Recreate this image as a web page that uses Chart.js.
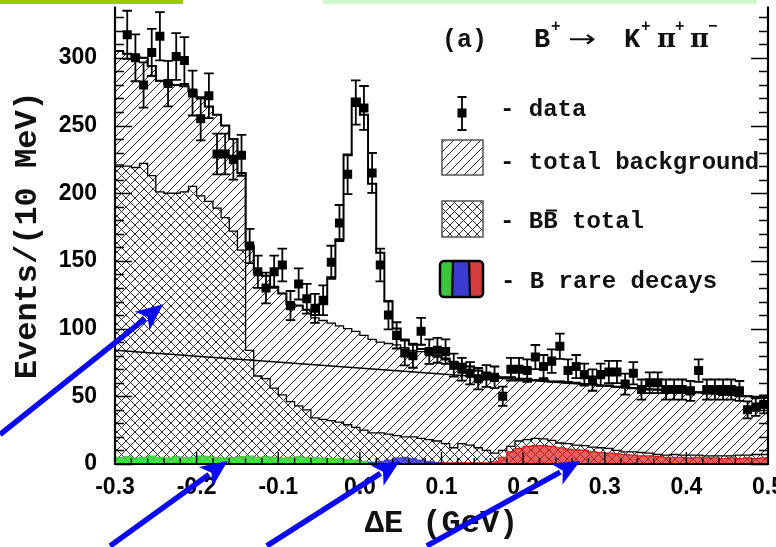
<!DOCTYPE html>
<html>
<head>
<meta charset="utf-8">
<script src="https://cdn.jsdelivr.net/npm/chart.js@4.4.1/dist/chart.umd.min.js"></script>
<style>
  html, body { margin: 0; padding: 0; background: #fff; }
  #wrap { width: 776px; height: 547px; position: relative; }
</style>
</head>
<body>
<div id="wrap"><canvas id="c" width="776" height="547"></canvas></div>
<script>
// Delta E histogram, 80 bins of 10 MeV from -0.3 to 0.5 GeV
const binLow = -0.3;
const binWidth = 0.01;
const xMin = -0.3, xMax = 0.5;
const yMin = 0, yMax = 338;

// Events per bin
const dataCounts = [
  365, 317, 300, 280, 304, 316, 281, 301, 298, 274,
  255, 272, 229, 229, 225, 228, 161, 142, 130, 142,
  147, 117, 133, 122, 115, 121, 149, 178, 214, 267,
  263, 215, 147, 110, 95, 82, 80, 98, 83, 84,
  83, 73, 70, 67, 63, 65, 64, 50, 70, 70,
  69, 79, 72, 76, 87, 69, 72, 66, 62, 66,
  68, 68, 59, 67, 55, 60, 60, 55, 55, 55,
  54, 69, 55, 55, 55, 55, 54, 40, 42, 44
];
const dataErrors = [
  19.1, 17.8, 17.3, 16.7, 17.4, 17.8, 16.8, 17.3, 17.3, 16.6,
  16.0, 16.5, 15.1, 15.1, 15.0, 15.1, 12.7, 11.9, 11.4, 11.9,
  12.1, 10.8, 11.5, 11.0, 10.7, 11.0, 12.2, 13.3, 14.6, 16.3,
  16.2, 14.7, 12.1, 10.5, 9.7, 9.1, 8.9, 9.9, 9.1, 9.2,
  9.1, 8.5, 8.4, 8.2, 7.9, 8.1, 8.0, 7.1, 8.4, 8.4,
  8.3, 8.9, 8.5, 8.7, 9.3, 8.3, 8.5, 8.1, 7.9, 8.1,
  8.2, 8.2, 7.7, 8.2, 7.4, 7.7, 7.7, 7.4, 7.4, 7.4,
  7.3, 8.3, 7.4, 7.4, 7.4, 7.4, 7.3, 6.3, 6.5, 6.6
];
// Fitted total (background + signal)
const fitTotal = [
  305, 303, 301, 300, 294, 283, 281, 280, 279, 276,
  270, 264, 258, 250, 240, 215, 161, 141, 139, 131,
  126, 118, 117, 114, 110, 118, 138, 166, 228, 270,
  258, 207, 156, 120, 100, 92, 88, 85, 83, 80,
  78, 75, 74, 72, 69, 67, 65, 64, 64, 63,
  63, 62, 62, 61, 61, 60, 60, 59, 59, 58,
  58, 57, 57, 56, 56, 55, 55, 54, 54, 53,
  53, 53, 52, 52, 51, 51, 50, 50, 49, 49
];
// Total background
const totalBkg = [
  305, 303, 301, 300, 294, 283, 281, 280, 279, 276,
  270, 264, 258, 250, 240, 215, 161, 141, 139, 131,
  126, 118, 117, 114, 108, 106, 104, 102, 100, 98,
  95, 92, 90, 89, 88, 86, 84, 83, 81, 79,
  77, 75, 74, 72, 69, 67, 65, 64, 64, 63,
  63, 62, 62, 61, 61, 60, 60, 59, 59, 58,
  58, 57, 57, 56, 56, 55, 55, 54, 54, 53,
  53, 53, 52, 52, 51, 51, 50, 50, 49, 49
];
// BBbar total
const bbTotal = [
  221, 220, 219, 222, 213, 201, 200, 200, 201, 205,
  198, 194, 189, 182, 172, 158, 84, 65, 63, 56,
  51, 46, 43, 40, 34, 33, 32, 31, 29, 27,
  25, 23, 23, 22, 21, 20, 20, 19, 18, 17,
  15, 12, 15, 14, 12, 10, 8, 10, 13, 17,
  18, 19, 18.5, 17.5, 15.5, 15, 14, 13.5, 12.5, 12,
  11.5, 10, 9, 9, 8.5, 8, 7, 6.5, 7, 6.5,
  6.5, 6.5, 6, 6, 6, 6, 6.5, 6.5, 7, 7
];
// B rare decays, three components
const rareGreen = [
  5, 5.5, 4.5, 5, 6, 5, 4.5, 5.5, 5, 5,
  6, 5.5, 5, 4.5, 5, 5.5, 6, 5, 5.5, 5,
  4.5, 5, 5.5, 5, 5, 4.5, 4, 4, 3.5, 3,
  2, 1.5, 0, 0, 0, 0, 0, 0, 0, 0,
  0, 0, 0, 0, 0, 0, 0, 0, 0, 0,
  0, 0, 0, 0, 0, 0, 0, 0, 0, 0,
  0, 0, 0, 0, 0, 0, 0, 0, 0, 0,
  0, 0, 0, 0, 0, 0, 0, 0, 0, 0
];
const rareBlue = [
  0, 0, 0, 0, 0, 0, 0, 0, 0, 0,
  0, 0, 0, 0, 0, 0, 0, 0, 0, 0,
  0, 0, 0, 0, 0, 0, 0, 0, 0, 0,
  0, 1, 2, 3, 4.5, 5, 4, 3, 2, 1,
  0, 0, 0, 0, 0, 0, 0, 0, 0, 0,
  0, 0, 0, 0, 0, 0, 0, 0, 0, 0,
  0, 0, 0, 0, 0, 0, 0, 0, 0, 0,
  0, 0, 0, 0, 0, 0, 0, 0, 0, 0
];
const rareRed = [
  0, 0, 0, 0, 0, 0, 0, 0, 0, 0,
  0, 0, 0, 0, 0, 0, 0, 0, 0, 0,
  0, 0, 0, 0, 0, 0, 0, 0, 0, 0,
  0, 0, 0, 0, 0, 0, 0, 0, 0.8, 0.8,
  0.8, 0.8, 0.8, 0.8, 0.8, 0.8, 1.5, 5, 9, 11.5,
  13, 13.5, 13.5, 13, 12, 11, 10.5, 10, 9, 8.5,
  8, 7.5, 7, 6.5, 6, 6, 5.5, 5, 5, 5,
  4.5, 5, 4.5, 4.5, 4, 4.5, 4, 4.5, 4, 4.5
];
// Continuum component (straight line) at the two ends of the range
const continuumX = [-0.3, 0.5];
const continuumY = [84, 49];

// Axis ticks
const xTickStep = 0.1;
const yTickStep = 50;

// Pointer arrows: [tail x, tail y, tip x, tip y] in axis units
const pointerArrows = [
  [-0.441, 21.8, -0.241, 118],
  [-0.306, -60.5, -0.162, 2.2],
  [-0.114, -60.5, 0.049, 2.2],
  [0.082, -60.5, 0.270, 2.2]
];

const MONO = '"Liberation Mono", "DejaVu Sans Mono", monospace';
const SANS = '"Liberation Sans", Arial, sans-serif';

const canvas = document.getElementById('c');
const ctx0 = canvas.getContext('2d');

function hatchPattern(step, cross, bg) {
  const c = document.createElement('canvas');
  c.width = c.height = step;
  const g = c.getContext('2d');
  if (bg) { g.fillStyle = bg; g.fillRect(0, 0, step, step); }
  g.strokeStyle = '#2a2a2a';
  g.lineWidth = 1;
  g.beginPath();
  g.moveTo(-1, step + 1); g.lineTo(step + 1, -1);
  g.moveTo(-1, 1); g.lineTo(1, -1);
  g.moveTo(step - 1, step + 1); g.lineTo(step + 1, step - 1);
  if (cross) {
    g.moveTo(-1, -1); g.lineTo(step + 1, step + 1);
    g.moveTo(step - 1, -1); g.lineTo(step + 1, 1);
    g.moveTo(-1, step - 1); g.lineTo(1, step + 1);
  }
  g.stroke();
  return ctx0.createPattern(c, 'repeat');
}
const hatchFill = hatchPattern(9, false, null);
const crossFill = hatchPattern(9, true, '#ffffff');

const edges = dataCounts.map((_, k) => +(binLow + binWidth * k).toFixed(4));
const centers = dataCounts.map((_, k) => +(binLow + binWidth * (k + 0.5)).toFixed(4));
function histPoints(vals) {
  return vals.map((v, k) => ({ x: edges[k], y: v }))
    .concat([{ x: xMax, y: vals[vals.length - 1] }]);
}

function histDataset(label, vals, fillColor, lineColor, lineWidth, order) {
  return {
    label, data: histPoints(vals), stepped: 'before',
    fill: fillColor ? 'origin' : false,
    backgroundColor: fillColor || 'transparent',
    borderColor: lineColor, borderWidth: lineWidth,
    pointRadius: 0, order
  };
}

// Error bars on the data points
const errorBarPlugin = {
  id: 'errorBars',
  afterDatasetsDraw(chart) {
    const idx = chart.data.datasets.findIndex(d => d.label === 'data');
    const meta = chart.getDatasetMeta(idx);
    const ys = chart.scales.y;
    const a = chart.chartArea;
    const ctx = chart.ctx;
    ctx.save();
    ctx.beginPath();
    ctx.rect(a.left, a.top, a.right - a.left, a.bottom - a.top);
    ctx.clip();
    ctx.strokeStyle = '#000';
    ctx.lineWidth = 1.8;
    meta.data.forEach((pt, i) => {
      const v = dataCounts[i], e = dataErrors[i];
      const y1 = ys.getPixelForValue(v + e), y2 = ys.getPixelForValue(v - e);
      const x = pt.x;
      ctx.beginPath();
      ctx.moveTo(x, y1); ctx.lineTo(x, y2);
      ctx.moveTo(x - 4.8, y1); ctx.lineTo(x + 4.8, y1);
      ctx.moveTo(x - 4.8, y2); ctx.lineTo(x + 4.8, y2);
      ctx.stroke();
    });
    ctx.restore();
  }
};

// Frame with inward major/minor ticks on all sides
const framePlugin = {
  id: 'frame',
  afterDatasetsDraw(chart) {
    const ctx = chart.ctx, a = chart.chartArea;
    const xs = chart.scales.x, ys = chart.scales.y;
    ctx.save();
    ctx.strokeStyle = '#000';
    ctx.lineWidth = 1.4;
    ctx.beginPath();
    for (let v = 0; v <= yMax; v += 10) {
      const y = Math.round(ys.getPixelForValue(v)) + 0.5;
      const len = v % yTickStep === 0 ? 17 : 9;
      ctx.moveTo(a.left, y); ctx.lineTo(a.left + len, y);
      ctx.moveTo(a.right, y); ctx.lineTo(a.right - len, y);
    }
    for (let i = 0; i <= 40; i++) {
      const x = xs.getPixelForValue(xMin + 0.02 * i);
      const len = i % 5 === 0 ? 12 : 6;
      ctx.moveTo(x, a.bottom); ctx.lineTo(x, a.bottom - len);
    }
    ctx.stroke();
    ctx.lineWidth = 2.2;
    ctx.beginPath();
    ctx.moveTo(a.left, a.top); ctx.lineTo(a.left, a.bottom);
    ctx.lineTo(a.right, a.bottom); ctx.lineTo(a.right, a.top);
    ctx.stroke();
    ctx.restore();
  }
};

function drawText(ctx, text, x, y, font, baseline) {
  ctx.font = font;
  ctx.textBaseline = baseline || 'alphabetic';
  ctx.textAlign = 'left';
  ctx.fillText(text, x, y);
}

// Title, legend, header strips and pointer arrows
const decorPlugin = {
  id: 'decor',
  afterDraw(chart) {
    const ctx = chart.ctx;
    const xs = chart.scales.x, ys = chart.scales.y;
    ctx.save();

    // header strips
    ctx.fillStyle = '#99cc00';
    ctx.fillRect(0, 0, 183, 4);
    ctx.fillStyle = '#ccf8cc';
    ctx.fillRect(323, 0, 434, 4);

    // panel title
    ctx.fillStyle = '#111';
    const big = 'bold 25px ' + MONO;
    const sup = 'bold 16px ' + MONO;
    const pi = 'bold 26px "DejaVu Serif", serif';
    drawText(ctx, '(a)', 442, 47, big);
    drawText(ctx, 'B', 534, 47, 'bold 27px ' + MONO);
    drawText(ctx, '+', 551, 31, sup);
    ctx.save();
    ctx.translate(568, 47); ctx.scale(1.4, 1);
    drawText(ctx, '\u2192', 0, 0, '24px "DejaVu Sans", sans-serif');
    ctx.restore();
    drawText(ctx, 'K', 624, 47, 'bold 27px ' + MONO);
    drawText(ctx, '+', 641, 31, sup);
    drawText(ctx, '\u03c0', 657, 47, pi);
    drawText(ctx, '+', 675, 31, sup);
    drawText(ctx, '\u03c0', 690, 47, pi);
    drawText(ctx, '\u2212', 708, 31, sup);

    // legend entries
    const lf = 'bold 24px ' + MONO;
    drawText(ctx, '- data', 500, 110, lf, 'middle');
    drawText(ctx, '- total background', 500, 163, lf, 'middle');
    drawText(ctx, '- BB total', 500, 222, lf, 'middle');
    drawText(ctx, '- B rare decays', 501, 282, lf, 'middle');
    // bar over the second B
    ctx.strokeStyle = '#111'; ctx.lineWidth = 2;
    ctx.beginPath(); ctx.moveTo(546, 210.5); ctx.lineTo(557, 210.5); ctx.stroke();

    // data symbol
    ctx.strokeStyle = '#000'; ctx.lineWidth = 1.8;
    ctx.beginPath();
    ctx.moveTo(462, 97); ctx.lineTo(462, 130);
    ctx.moveTo(457.5, 97); ctx.lineTo(466.5, 97);
    ctx.moveTo(457.5, 130); ctx.lineTo(466.5, 130);
    ctx.stroke();
    ctx.fillStyle = '#000';
    ctx.fillRect(457.5, 108.5, 9, 9);

    // hatched boxes
    ctx.fillStyle = hatchFill;
    ctx.fillRect(442, 140, 41, 35);
    ctx.fillStyle = crossFill;
    ctx.fillRect(442, 201, 41, 36);
    ctx.strokeStyle = '#555'; ctx.lineWidth = 1.5;
    ctx.strokeRect(442, 140, 41, 35);
    ctx.strokeRect(442, 201, 41, 36);

    // rare decays box
    const rx = 440, ry = 261, rw = 43, rh = 36;
    ctx.save();
    ctx.beginPath();
    ctx.roundRect(rx, ry, rw, rh, 4);
    ctx.clip();
    ctx.fillStyle = '#3cc43c'; ctx.fillRect(rx, ry, 13, rh);
    ctx.fillStyle = '#3b3bd0'; ctx.fillRect(rx + 13, ry, 16, rh);
    ctx.fillStyle = '#d23c3c'; ctx.fillRect(rx + 29, ry, 14, rh);
    ctx.restore();
    ctx.strokeStyle = '#000'; ctx.lineWidth = 2.2;
    ctx.beginPath();
    ctx.moveTo(rx + 13, ry); ctx.lineTo(rx + 12, ry + rh);
    ctx.moveTo(rx + 29, ry); ctx.lineTo(rx + 30, ry + rh);
    ctx.stroke();
    ctx.lineWidth = 2.5;
    ctx.beginPath();
    ctx.roundRect(rx, ry, rw, rh, 4);
    ctx.stroke();

    // pointer arrows
    ctx.strokeStyle = '#0a0af0';
    ctx.fillStyle = '#0a0af0';
    pointerArrows.forEach(([tx, ty, hx, hy]) => {
      const x1 = xs.getPixelForValue(tx), y1 = ys.getPixelForValue(ty);
      const x2 = xs.getPixelForValue(hx), y2 = ys.getPixelForValue(hy);
      const ang = Math.atan2(y2 - y1, x2 - x1);
      const head = 27, half = 12;
      const bx = x2 - head * Math.cos(ang), by = y2 - head * Math.sin(ang);
      ctx.lineWidth = 5.5;
      ctx.beginPath();
      ctx.moveTo(x1, y1); ctx.lineTo(bx + 4 * Math.cos(ang), by + 4 * Math.sin(ang));
      ctx.stroke();
      ctx.beginPath();
      ctx.moveTo(x2, y2);
      ctx.lineTo(bx + half * Math.sin(ang), by - half * Math.cos(ang));
      ctx.lineTo(bx + 7 * Math.cos(ang), by + 7 * Math.sin(ang));
      ctx.lineTo(bx - half * Math.sin(ang), by + half * Math.cos(ang));
      ctx.closePath();
      ctx.fill();
    });
    ctx.restore();
  }
};

new Chart(canvas, {
  type: 'line',
  data: {
    datasets: [
      histDataset('total background', totalBkg, hatchFill, '#000', 1.3, 9),
      histDataset('BB total', bbTotal, crossFill, '#000', 1.3, 8),
      histDataset('B rare decays (red)', rareRed, 'rgba(228,30,30,0.72)', '#d01818', 1.2, 7),
      histDataset('B rare decays (green)', rareGreen, 'rgba(50,225,50,0.9)', 'rgba(30,200,30,0.9)', 0.8, 6),
      histDataset('B rare decays (blue)', rareBlue, 'rgba(40,40,215,0.8)', 'rgba(40,40,200,0.9)', 0.8, 5),
      {
        label: 'continuum',
        data: continuumX.map((x, i) => ({ x, y: continuumY[i] })),
        borderColor: '#000', borderWidth: 1.5, pointRadius: 0, fill: false, order: 4
      },
      histDataset('fit', fitTotal, null, '#000', 2, 3),
      {
        label: 'data',
        data: centers.map((x, i) => ({ x, y: dataCounts[i] })),
        showLine: false, pointStyle: 'rect', pointRadius: 6.4,
        backgroundColor: '#000', borderColor: '#000', borderWidth: 0,
        order: 1, clip: 0
      }
    ]
  },
  options: {
    responsive: false,
    animation: false,
    events: [],
    layout: { padding: { top: 0, right: 8, left: 0, bottom: 0 } },
    plugins: { legend: { display: false }, tooltip: { enabled: false } },
    scales: {
      x: {
        type: 'linear', min: xMin, max: xMax,
        grid: { display: false, drawTicks: false },
        border: { display: false },
        ticks: {
          stepSize: xTickStep, padding: 10, color: '#000',
          font: { family: SANS, size: 23, weight: 'bold' },
          maxRotation: 0, autoSkip: false,
          callback: v => (Math.abs(v) < 1e-9 ? 0 : v).toFixed(1)
        },
        title: {
          display: true, text: '\u0394E (GeV)', color: '#111',
          font: { family: MONO, size: 32, weight: 'bold' },
          padding: { top: 0, bottom: 4 }
        },
        afterFit(scale) { scale.height = 83; scale.paddingLeft = 0; scale.paddingRight = 0; }
      },
      y: {
        type: 'linear', min: yMin, max: yMax,
        grid: { display: false, drawTicks: false },
        border: { display: false },
        ticks: {
          stepSize: yTickStep, includeBounds: false, padding: 18, color: '#000',
          font: { family: SANS, size: 23, weight: 'bold' }
        },
        title: {
          display: true, text: 'Events/(10 MeV)', color: '#111',
          font: { family: MONO, size: 32, weight: 'bold' },
          padding: { top: 9, bottom: 0 }
        },
        afterFit(scale) { scale.width = 115; scale.paddingTop = 0; scale.paddingBottom = 0; }
      }
    }
  },
  plugins: [errorBarPlugin, framePlugin, decorPlugin]
});
</script>
</body>
</html>
